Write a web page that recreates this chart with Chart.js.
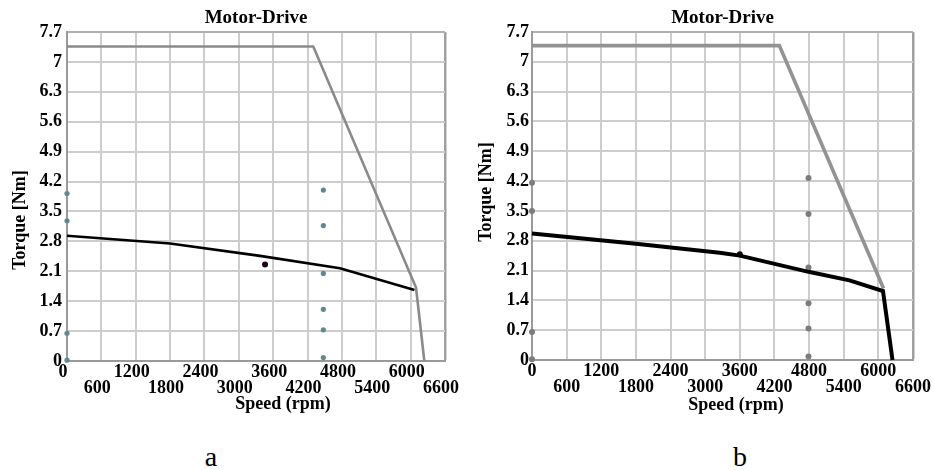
<!DOCTYPE html>
<html><head><meta charset="utf-8">
<script src="https://cdn.jsdelivr.net/npm/chart.js@4.4.1/dist/chart.umd.min.js"></script>
<style>
html,body{margin:0;padding:0;background:#fff;}
#wrap{position:relative;width:934px;height:470px;overflow:hidden;background:#fff;}
canvas{position:absolute;top:0;}
.lab{position:absolute;top:443px;width:40px;text-align:center;font:28px "Liberation Serif","Times New Roman",serif;line-height:28px;color:#000;}
</style></head><body>
<div id="wrap">
<canvas id="ca" width="467" height="420" style="left:0"></canvas>
<canvas id="cb" width="467" height="420" style="left:467px"></canvas>
<div class="lab" style="left:191px">a</div>
<div class="lab" style="left:720px">b</div>
</div>
<script>
// ---- tick labels ----
const xTicks = [0, 600, 1200, 1800, 2400, 3000, 3600, 4200, 4800, 5400, 6000, 6600];
const yTicks = [0, 0.7, 1.4, 2.1, 2.8, 3.5, 4.2, 4.9, 5.6, 6.3, 7, 7.7];

// ---- panel a ----
const aMaxSpeed  = [0, 4300, 6094, 6239];
const aMaxTorque = [7.36, 7.36, 1.72, 0];
const aLoadSpeed  = [0, 1800, 3370, 4766, 6066];
const aLoadTorque = [2.93, 2.75, 2.46, 2.17, 1.66];
const aDotSpeed  = [0, 0, 0, 0, 4476, 4476, 4476, 4476, 4476, 4476];
const aDotTorque = [3.92, 3.28, 0.65, 0.02, 4.00, 3.17, 2.05, 1.21, 0.73, 0.08];
const aOpSpeed  = [3458];
const aOpTorque = [2.26];

// ---- panel b ----
const bMaxSpeed  = [0, 4285, 6090];
const bMaxTorque = [7.38, 7.38, 1.68];
const bLoadSpeed  = [0, 1800, 3250, 3600, 4790, 5500, 6080, 6245];
const bLoadTorque = [2.97, 2.73, 2.52, 2.45, 2.07, 1.87, 1.62, 0];
const bDotSpeed  = [0, 0, 0, 0, 4790, 4790, 4790, 4790, 4790, 4790];
const bDotTorque = [4.16, 3.50, 0.66, 0.02, 4.27, 3.43, 2.17, 1.33, 0.74, 0.08];
const bOpSpeed  = [3600];
const bOpTorque = [2.48];

const SERIF = '"Liberation Serif", "Times New Roman", serif';

function pts(xs, ys) { return xs.map((x, i) => ({ x: x, y: ys[i] })); }

const axisTitles = {
  id: 'axisTitles',
  afterDraw(chart, args, o) {
    const ctx = chart.ctx;
    ctx.save();
    ctx.fillStyle = '#000';
    ctx.font = 'bold 18px ' + SERIF;
    ctx.textAlign = 'center';
    ctx.textBaseline = 'alphabetic';
    ctx.fillText(o.xText, o.xX, o.xY);
    ctx.translate(o.yX, o.yY);
    ctx.rotate(-Math.PI / 2);
    ctx.fillText(o.yText, 0, 0);
    ctx.restore();
  }
};

function build(id, p) {
  return new Chart(document.getElementById(id), {
    type: 'scatter',
    plugins: [axisTitles],
    data: {
      datasets: [
        { data: pts(p.loadS, p.loadT), showLine: true, borderColor: '#000', borderWidth: p.lwB,
          pointRadius: 0, order: 0, clip: false },
        { data: pts(p.maxS, p.maxT), showLine: true, borderColor: p.gray, borderWidth: p.lwG,
          pointRadius: 0, order: 1, clip: false },
        { data: pts(p.dotS, p.dotT), showLine: false, pointRadius: p.dotR, pointBorderWidth: 0,
          backgroundColor: p.dotColor, pointBackgroundColor: p.dotColor, order: 2, clip: false },
        { data: pts(p.opS, p.opT), showLine: false, pointRadius: 3, pointBorderWidth: 0,
          backgroundColor: '#1a001a', pointBackgroundColor: '#1a001a', order: 3, clip: false }
      ]
    },
    options: {
      responsive: false,
      animation: false,
      events: [],
      layout: { padding: { left: 0, right: p.padR, top: 0, bottom: 0 } },
      scales: {
        x: {
          type: 'linear', min: 0, max: 6600,
          afterBuildTicks: s => { s.ticks = xTicks.map(v => ({ value: v })); },
          afterFit: s => { s.height = p.xH; },
          ticks: {
            autoSkip: false, maxRotation: 0, minRotation: 0, padding: 3, labelOffset: p.xOff,
            color: '#000', font: { family: SERIF, size: 18, weight: 'bold', lineHeight: 0.92 },
            callback: (v, i) => (i % 2 === 0 ? String(v) : ['', String(v)])
          },
          grid: {
            drawTicks: false,
            color: c => (c.tick && c.tick.value === 6600 ? '#a0a0a0' : '#cdcdcd'),
            lineWidth: c => (c.tick && c.tick.value === 6600 ? 2.5 : 2)
          },
          border: { display: true, color: '#9a9a9a', width: 2 }
        },
        y: {
          type: 'linear', min: 0, max: 7.7,
          afterBuildTicks: s => { s.ticks = yTicks.map(v => ({ value: v })); },
          afterFit: s => { s.width = p.yW; },
          ticks: {
            padding: p.yPad, color: '#000',
            font: { family: SERIF, size: 18, weight: 'bold' },
            callback: v => String(Math.round(v * 10) / 10)
          },
          grid: {
            drawTicks: false,
            color: c => (c.tick && c.tick.value === 7.7 ? '#b0b0b0' : '#cdcdcd'),
            lineWidth: 2
          },
          border: { display: true, color: '#9a9a9a', width: 2 }
        }
      },
      plugins: {
        legend: { display: false },
        tooltip: { enabled: false },
        title: {
          display: true, text: 'Motor-Drive', color: '#000', fullSize: false,
          font: { family: SERIF, size: 19, weight: 'bold', lineHeight: 1 },
          padding: { top: 9, bottom: 4 }
        },
        axisTitles: {
          xText: 'Speed (rpm)', xX: p.xtX, xY: p.xtY,
          yText: 'Torque [Nm]', yX: p.ytX, yY: p.ytY
        }
      }
    }
  });
}

build('ca', {
  maxS: aMaxSpeed, maxT: aMaxTorque, loadS: aLoadSpeed, loadT: aLoadTorque,
  dotS: aDotSpeed, dotT: aDotTorque, opS: aOpSpeed, opT: aOpTorque,
  gray: '#8a8a8a', dotColor: '#5f8a8a', lwG: 2.6, lwB: 2.6, dotR: 2.6,
  yW: 67, padR: 22, xH: 59, yPad: 5, xOff: -4,
  xtX: 283, xtY: 409, ytX: 25, ytY: 220
});
build('cb', {
  maxS: bMaxSpeed, maxT: bMaxTorque, loadS: bLoadSpeed, loadT: bLoadTorque,
  dotS: bDotSpeed, dotT: bDotTorque, opS: bOpSpeed, opT: bOpTorque,
  gray: '#939393', dotColor: '#7c7c7c', lwG: 3.6, lwB: 4, dotR: 3,
  yW: 65, padR: 21, xH: 60, yPad: 3, xOff: 0,
  xtX: 269, xtY: 410, ytX: 24, ytY: 192
});
</script>
</body></html>
